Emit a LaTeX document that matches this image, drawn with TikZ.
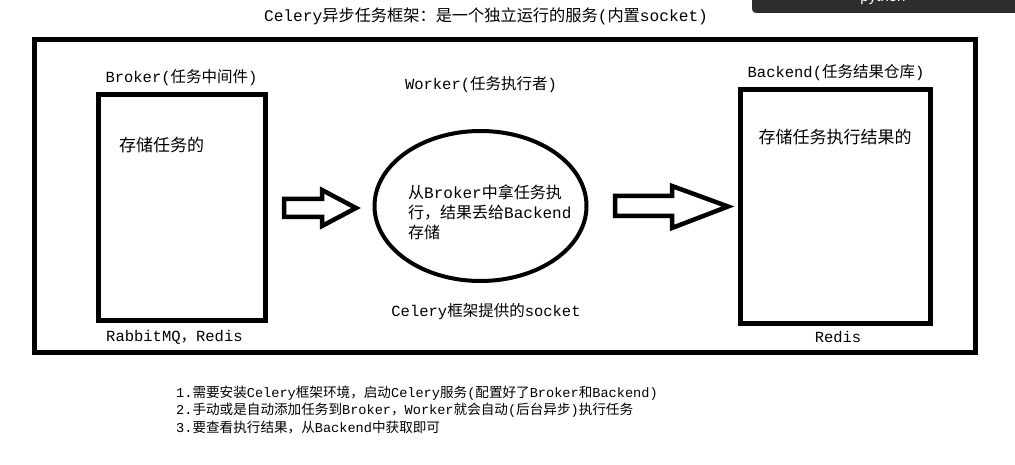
\documentclass[tikz,border=0pt]{standalone}
\usetikzlibrary{shapes.geometric}
\usepackage{fontspec}
\setmainfont{Liberation Mono}
\setsansfont{Liberation Sans}
\newfontfamily\cjk{Noto Sans CJK SC}
\newcommand\zh[1]{{\cjk #1}}
\definecolor{tabgray}{HTML}{2E2E2E}
\begin{document}
\begin{tikzpicture}[x=1pt,y=-1pt,
  outerbox/.style={draw, line width=5pt, minimum width=941pt, minimum height=312pt, inner sep=0pt},
  storebox/.style={draw, line width=5pt, inner sep=0pt},
  workerellipse/.style={draw, line width=4pt, ellipse, inner sep=0pt},
  blockarrow/.style={draw, line width=4.5pt, line join=miter, fill=white},
  label/.style={inner sep=0pt, font=\fontsize{15.5}{18}\selectfont},
  bigtext/.style={inner sep=0pt, font=\fontsize{17}{20}\selectfont},
  notes/.style={inner sep=0pt, align=left, font=\fontsize{13.6}{17.5}\selectfont}]
\useasboundingbox (0,0) rectangle (1015,465);
\clip (0,0) rectangle (1015,465);
\fill[white] (0,0) rectangle (1015,465);
% screenshot tab
\fill[tabgray, rounded corners=4pt] (752,-10) rectangle (1020,13);
\node[anchor=base, inner sep=0pt, text=white, font=\sffamily\fontsize{15}{18}\selectfont] (tab) at (883,1.5) {python};
% title
\node[label, font=\fontsize{16.2}{19}\selectfont] (title) at (486,16) {Celery\zh{异步任务框架：是一个独立运行的服务}(\zh{内置}socket)};
% outer frame
\node[outerbox] (frame) at (505,196) {};
% broker
\node[storebox, minimum width=167pt, minimum height=225.5pt] (broker) at (182,207.75) {};
\node[label] (brokertitle) at (181.5,78) {Broker(\zh{任务中间件})};
\node[bigtext, anchor=west] (brokertext) at (119,145) {\zh{存储任务的}};
\node[label, anchor=west] (brokerimpl) at (106,337) {RabbitMQ\zh{，}Redis};
% worker
\node[workerellipse, minimum width=212pt, minimum height=150pt] (worker) at (480.5,206) {};
\node[label] (workertitle) at (481,85) {Worker(\zh{任务执行者})};
\node[inner sep=0pt, anchor=west, align=left, font=\fontsize{16}{20}\selectfont] (workertext) at (408,212)
  {\zh{从}Broker\zh{中拿任务执}\\\zh{行，结果丢给}Backend\\\zh{存储}};
\node[label] (workersock) at (486,312) {Celery\zh{框架提供的}socket};
% backend
\node[storebox, minimum width=190.5pt, minimum height=234pt] (backend) at (835.25,206.5) {};
\node[label] (backendtitle) at (836,73) {Backend(\zh{任务结果仓库})};
\node[bigtext] (backendtext) at (835,137) {\zh{存储任务执行结果的}};
\node[label] (backendimpl) at (838,337) {Redis};
% block arrows
\draw[blockarrow] (284,199) -- (322,199) -- (322,190) -- (356,208) -- (322,226) -- (322,217) -- (284,217) -- cycle;
\draw[blockarrow] (615,196) -- (672,196) -- (672,186) -- (728,206.5) -- (672,228) -- (672,216) -- (615,216) -- cycle;
% notes
\node[notes, anchor=west] (notes) at (176,409.5)
  {1.\zh{需要安装}Celery\zh{框架环境，启动}Celery\zh{服务}(\zh{配置好了}Broker\zh{和}Backend)\\
   2.\zh{手动或是自动添加任务到}Broker\zh{，}Worker\zh{就会自动}(\zh{后台异步})\zh{执行任务}\\
   3.\zh{要查看执行结果，从}Backend\zh{中获取即可}};
\end{tikzpicture}
\end{document}
